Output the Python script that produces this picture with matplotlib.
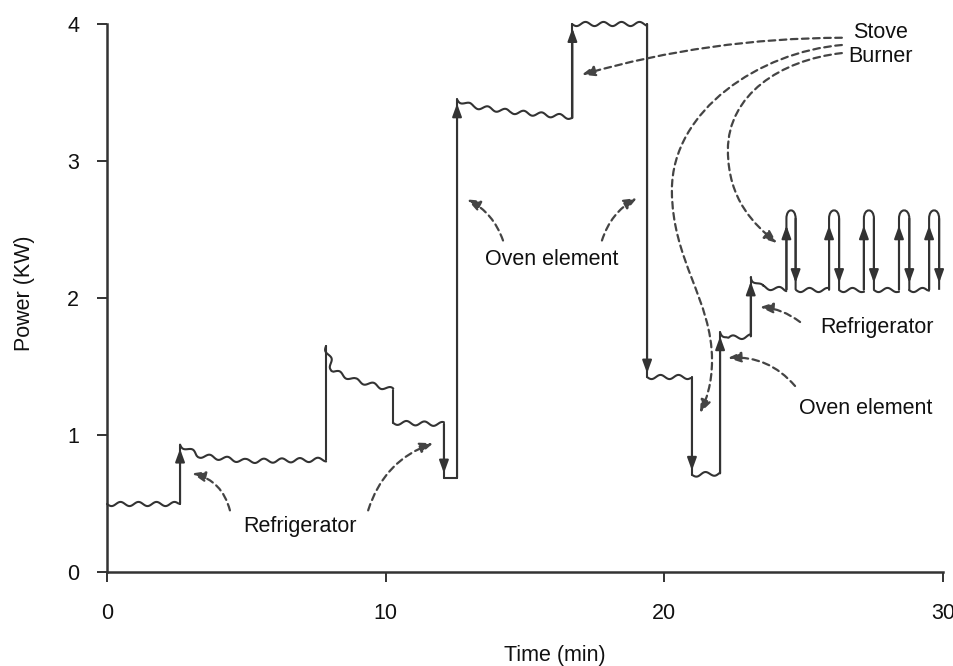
import matplotlib
matplotlib.use("Agg")
import matplotlib.pyplot as plt
from matplotlib.path import Path
from matplotlib.patches import FancyArrowPatch, PathPatch

plt.rcParams['font.family'] = ['Liberation Sans', 'DejaVu Sans']

# ---------------- data ----------------
# Quasi-steady pieces of the household load trace: times (min) and power (kW)
plateau_times = [
    [0.0, 2.62],
    [2.62, 3.3, 5.0, 7.86],
    [7.86, 8.1, 8.9, 10.26],
    [10.26, 12.09],
    [12.09, 12.56],
    [12.56, 13.1, 14.5, 16.7],
    [16.7, 19.38],
    [19.38, 20.99],
    [20.99, 22.0],
    [22.0, 22.3, 23.1],
    [23.1, 23.5, 24.38],
]
plateau_power = [
    [0.50, 0.50],
    [0.93, 0.85, 0.81, 0.82],
    [1.65, 1.47, 1.40, 1.33],
    [1.09, 1.08],
    [0.69, 0.69],
    [3.45, 3.40, 3.36, 3.32],
    [4.00, 4.00],
    [1.42, 1.42],
    [0.71, 0.72],
    [1.75, 1.71, 1.72],
    [2.15, 2.08, 2.06],
]
# Direction marker drawn on each step between consecutive pieces
step_arrows = ['up', None, None, 'down', 'up', 'up', 'down', 'down', 'up', 'up']

# Stove burner thermostat cycling at the end of the record
burner_on = [24.38, 25.91, 27.16, 28.42, 29.50]
burner_off = [24.71, 26.27, 27.52, 28.79, 29.86]
burner_base = 2.06
burner_peak = 2.64

x_ticks = [0, 10, 20, 30]
y_ticks = [0, 1, 2, 3, 4]

# ---------------- style ----------------
TRACE = '#333333'
NOTE = '#444444'
INK = '#111111'
LW = 1.5
FS = 15.5

fig = plt.figure(figsize=(9.54, 6.66), dpi=100)
ax = fig.add_axes([0.1122, 0.1411, 0.8763, 0.8228])
ax.set_xlim(0, 30)
ax.set_ylim(0, 4)


def rippled(t, p):
    line, = ax.plot(t, p, color=TRACE, lw=LW, clip_on=False,
                    solid_joinstyle='round', solid_capstyle='round')
    if t[-1] - t[0] > 0.5:
        line.set_sketch_params(scale=2.1, length=18, randomness=1.0)


def step(t, p0, p1, arrow):
    ax.plot([t, t], [p0, p1], color=TRACE, lw=LW, clip_on=False,
            solid_capstyle='round')
    if arrow:
        ax.annotate('', xy=(t, p1), xytext=(t, p0),
                    arrowprops=dict(arrowstyle='-|>,head_length=0.55,head_width=0.2',
                                    mutation_scale=14, color=TRACE, lw=LW,
                                    shrinkA=0, shrinkB=3))


# load trace
for i, (t, p) in enumerate(zip(plateau_times, plateau_power)):
    rippled(t, p)
    if i < len(step_arrows):
        step(t[-1], p[-1], plateau_power[i + 1][0], step_arrows[i])

# burner pulses with rounded tops
d = 0.06
for k, (on, off) in enumerate(zip(burner_on, burner_off)):
    verts = [(on, burner_base), (on, burner_peak - d),
             (on, burner_peak + d / 3), (off, burner_peak + d / 3), (off, burner_peak - d),
             (off, burner_base)]
    codes = [Path.MOVETO, Path.LINETO, Path.CURVE4, Path.CURVE4, Path.CURVE4, Path.LINETO]
    ax.add_patch(PathPatch(Path(verts, codes), fill=False, edgecolor=TRACE, lw=LW,
                           clip_on=False))
    for t0, p0, p1 in [(on, burner_base, burner_peak - d), (off, burner_peak - d, burner_base)]:
        ax.annotate('', xy=(t0, p1), xytext=(t0, p0),
                    arrowprops=dict(arrowstyle='-|>,head_length=0.55,head_width=0.2',
                                    mutation_scale=14, color=TRACE, lw=LW,
                                    shrinkA=0, shrinkB=5))
    if k + 1 < len(burner_on):
        rippled([off, burner_on[k + 1]], [burner_base, burner_base])

# ---------------- annotations ----------------
dash = (0, (3, 2))
head = '-|>,head_length=0.55,head_width=0.22'


def note_arrow(start, tip, rad):
    ax.annotate('', xy=tip, xytext=start,
                arrowprops=dict(arrowstyle=head, mutation_scale=14, color=NOTE,
                                lw=1.6, ls=dash, shrinkA=0, shrinkB=0,
                                connectionstyle=f'arc3,rad={rad}'))


def note_curve(points):
    codes = [Path.MOVETO] + [Path.CURVE4] * (len(points) - 1)
    ax.add_patch(FancyArrowPatch(path=Path(points, codes), arrowstyle=head,
                                 mutation_scale=14, color=NOTE, lw=1.6, ls=dash,
                                 clip_on=False))


ax.text(6.93, 0.33, 'Refrigerator', fontsize=FS, ha='center', va='center', color=INK)
note_arrow((4.41, 0.45), (3.05, 0.72), 0.3)
note_arrow((9.37, 0.45), (11.70, 0.94), -0.25)

ax.text(15.97, 2.28, 'Oven element', fontsize=FS, ha='center', va='center', color=INK)
note_arrow((14.21, 2.42), (12.92, 2.72), 0.2)
note_arrow((17.76, 2.42), (19.02, 2.73), -0.2)

ax.text(27.77, 3.85, 'Stove\nBurner', fontsize=FS, ha='center', va='center',
        linespacing=1.2, color=INK)
note_arrow((26.37, 3.90), (17.04, 3.63), 0.07)
note_curve([(26.37, 3.847), (23.43, 3.796), (20.27, 3.372), (20.27, 2.788),
            (20.27, 2.277), (21.71, 1.985), (21.71, 1.547),
            (21.71, 1.365), (21.49, 1.255), (21.28, 1.161)])
note_curve([(26.37, 3.788), (24.15, 3.737), (22.28, 3.482), (22.28, 3.080),
            (22.28, 2.715), (23.25, 2.533), (24.04, 2.401)])

ax.text(27.63, 1.788, 'Refrigerator', fontsize=FS, ha='center', va='center', color=INK)
note_arrow((24.87, 1.825), (23.43, 1.934), 0.15)

ax.text(27.23, 1.197, 'Oven element', fontsize=FS, ha='center', va='center', color=INK)
note_arrow((24.69, 1.358), (22.28, 1.562), 0.25)

# ---------------- axes ----------------
for side in ('top', 'right'):
    ax.spines[side].set_visible(False)
for side in ('left', 'bottom'):
    ax.spines[side].set_linewidth(1.8)
    ax.spines[side].set_color('#333333')

ax.set_xticks(x_ticks)
ax.set_yticks(y_ticks)
ax.tick_params(axis='x', direction='out', length=7, width=1.4, pad=15,
               labelsize=FS, colors=INK)
ax.tick_params(axis='y', direction='out', length=7, width=1.4, pad=13,
               labelsize=FS, colors=INK)
ax.tick_params(colors='#333333', which='both', labelcolor=INK)

ax.set_xlabel('Time (min)', fontsize=FS, color=INK)
ax.xaxis.set_label_coords(0.536, -0.1515)
ax.xaxis.label.set_va('center')
ax.set_ylabel('Power (KW)', fontsize=FS, color=INK)
ax.yaxis.set_label_coords(-0.099, 0.509)
ax.yaxis.label.set_va('center')

fig.savefig('out.png', dpi=100)
